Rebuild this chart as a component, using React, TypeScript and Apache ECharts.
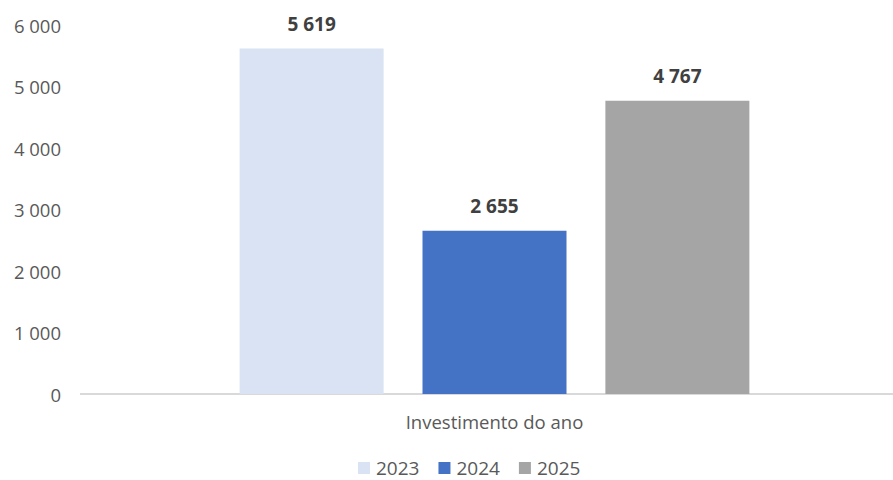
import React, { useEffect, useRef } from "react";
import * as echarts from "echarts";

const categories = ["Investimento do ano"];
const seriesNames = ["2023", "2024", "2025"];
const values2023 = [5619];
const values2024 = [2655];
const values2025 = [4767];
const colors = ["#DAE3F3", "#4472C4", "#A5A5A5"];
const yTicks = { min: 0, max: 6000, interval: 1000 };

const fmt = (v: number) => {
  const s = Math.round(v).toString();
  return s.replace(/\B(?=(\d{3})+(?!\d))/g, " ");
};

export default function App() {
  const ref = useRef<HTMLDivElement>(null);
  useEffect(() => {
    if (!ref.current) return;
    const chart = echarts.init(ref.current, undefined, { renderer: "svg" });
    const font = "'Open Sans', 'Noto Sans', sans-serif";
    const data = [values2023, values2024, values2025];
    chart.setOption({
      animation: false,
      textStyle: { fontFamily: font },
      grid: { left: 96, top: 25, right: 0, height: 369, containLabel: false },
      graphic: [
        {
          type: "line",
          shape: { x1: 80, y1: 394, x2: 893, y2: 394 },
          style: { stroke: "#D9D9D9", lineWidth: 2 },
          z: 1,
        },
      ],
      legend: {
        top: 457,
        left: 358,
        padding: 0,
        itemWidth: 12,
        itemHeight: 12,
        itemGap: 19,
        icon: "rect",
        textStyle: { color: "#595959", fontSize: 19, fontFamily: font, lineHeight: 22, padding: [0, 0, 0, 1] },
        data: seriesNames,
      },
      xAxis: {
        type: "category",
        data: categories,
        axisLine: { show: false },
        axisTick: { show: false },
        axisLabel: { color: "#595959", fontSize: 18.5, margin: 18, fontFamily: font },
      },
      yAxis: {
        type: "value",
        min: yTicks.min,
        max: yTicks.max,
        interval: yTicks.interval,
        splitLine: { show: false },
        axisLine: { show: false },
        axisTick: { show: false },
        axisLabel: {
          color: "#595959",
          fontSize: 18.5,
          margin: 35,
          fontFamily: font,
          formatter: (v: number) => fmt(v),
        },
      },
      series: seriesNames.map((name, i) => ({
        name,
        type: "bar",
        data: data[i],
        barWidth: 144,
        barGap: "27%",
        z: 2,
        itemStyle: { color: colors[i] },
        label: {
          show: true,
          position: "top",
          distance: 15,
          color: "#404040",
          fontWeight: "bold",
          fontSize: 19,
          fontFamily: font,
          formatter: (p: any) => fmt(p.value),
        },
      })),
    });
    return () => chart.dispose();
  }, []);
  return <div ref={ref} style={{ width: 893, height: 480, position: "absolute", left: 0, top: 0 }} />;
}
